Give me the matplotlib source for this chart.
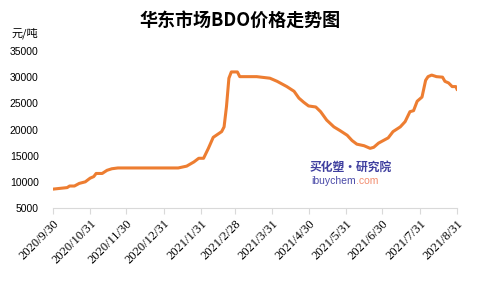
import numpy as np
import pandas as pd
import matplotlib
matplotlib.use("Agg")
import matplotlib.pyplot as plt
import matplotlib.dates as mdates

# days after 2020-09-30 and price (yuan/ton)
days = [0, 12, 14, 18, 22, 27, 31, 34, 36, 41, 45, 49, 54, 104, 111, 117, 121, 125,
        129, 133, 140, 142, 144, 146, 148, 153, 155, 169, 180, 186, 194, 200, 204,
        208, 212, 218, 222, 227, 233, 238, 244, 248, 252, 258, 263, 266, 270, 274,
        278, 282, 288, 292, 296, 299, 302, 306, 309, 311, 314, 318, 323, 325, 328,
        331, 334, 335]
price = [8600, 8900, 9200, 9200, 9700, 10000, 10700, 11000, 11600, 11600, 12200,
         12500, 12650, 12650, 13000, 13800, 14500, 14500, 16400, 18500, 19600, 20500,
         24400, 29800, 31000, 31000, 30100, 30100, 29800, 29200, 28200, 27300, 26000,
         25200, 24500, 24300, 23400, 21800, 20500, 19800, 18900, 17900, 17200, 16900,
         16400, 16600, 17400, 17900, 18400, 19600, 20500, 21500, 23400, 23600, 25400,
         26200, 29400, 30100, 30400, 30100, 30000, 29200, 28900, 28200, 28200, 27700]
tick_dates = ["2020-09-30", "2020-10-31", "2020-11-30", "2020-12-31", "2021-01-31",
              "2021-02-28", "2021-03-31", "2021-04-30", "2021-05-31", "2021-06-30",
              "2021-07-31", "2021-08-31"]
yticks = [5000, 10000, 15000, 20000, 25000, 30000, 35000]

start = pd.Timestamp("2020-09-30")
dates = [start + pd.Timedelta(days=d) for d in days]
ticks = pd.to_datetime(tick_dates)

fig = plt.figure(figsize=(4.8, 3.03), dpi=100)
ax = fig.add_axes([52.7 / 480, 1 - 208 / 303, (457 - 52.7) / 480, (208 - 51) / 303])

ax.plot(dates, price, color="#ED7D31", linewidth=2.2, solid_joinstyle="round")

ax.set_xlim(ticks[0], ticks[-1])
ax.set_ylim(5000, 35000)
ax.set_xticks(ticks)
ax.set_xticklabels([f"{t.year}/{t.month}/{t.day}" for t in ticks],
                   rotation=45, ha="right", rotation_mode="anchor",
                   fontsize=9, family="Liberation Serif")
ax.set_yticks(yticks)
ax.set_yticklabels([str(v) for v in yticks], fontsize=7.5, family="Liberation Sans")

for s in ["top", "right", "left"]:
    ax.spines[s].set_visible(False)
ax.spines["bottom"].set_color("#d9d9d9")
ax.tick_params(axis="x", colors="#d9d9d9", labelcolor="black", length=4, pad=3)
ax.tick_params(axis="y", length=0, pad=10)

fig.text(0.5, 1 - 20 / 303, "华东市场BDO价格走势图", ha="center", va="center",
         fontsize=13, fontweight="bold", family=["Noto Sans CJK SC", "DejaVu Sans"])
fig.text(12 / 480, 1 - 33 / 303, "元/吨", ha="left", va="center", fontsize=8,
         family=["Noto Sans CJK SC", "DejaVu Sans"])

# watermark
fig.text(310 / 480, 1 - 167 / 303, "买化塑·研究院", ha="left", va="center",
         fontsize=8.5, fontweight="bold", style="italic", color="#3f3f9f",
         family=["Noto Sans CJK SC", "DejaVu Sans"])
t1 = fig.text(311 / 480, 1 - 181 / 303, "ibuychem", ha="left", va="center",
              fontsize=7.5, color="#4a4aa8", family="Liberation Sans")
fig.canvas.draw()
bb = t1.get_window_extent()
fig.text(bb.x1 / 480, 1 - 181 / 303, ".com", ha="left", va="center",
         fontsize=7.5, color="#f28c6e", family="Liberation Sans")

fig.savefig("out.png", dpi=100)
